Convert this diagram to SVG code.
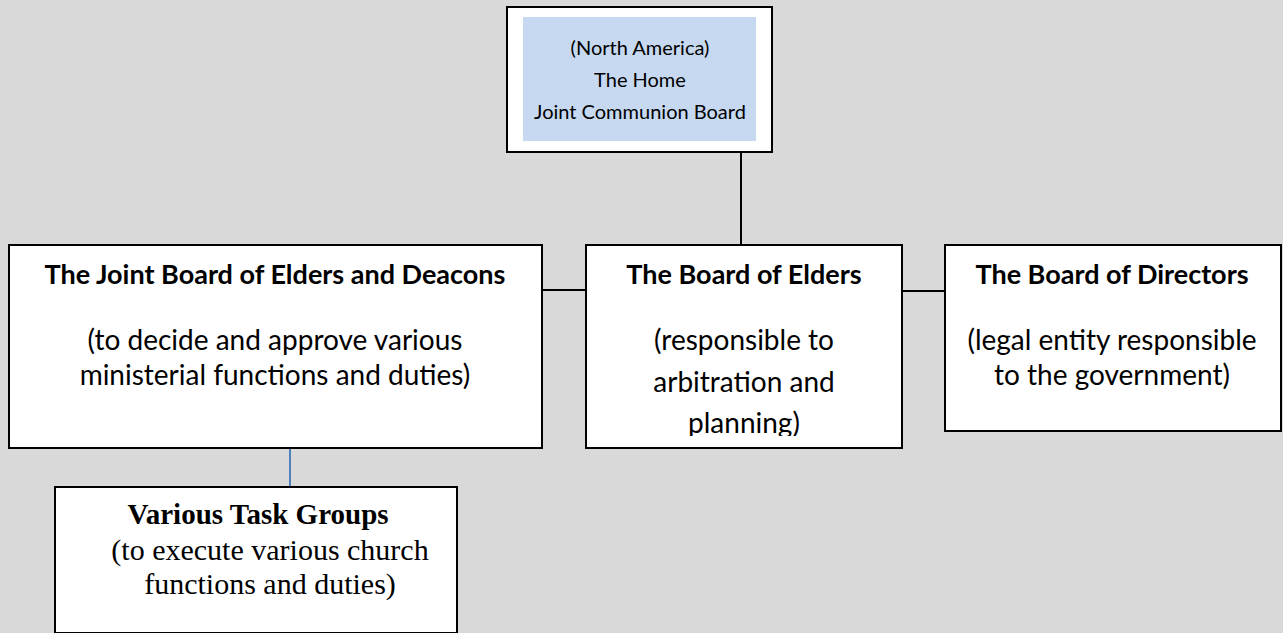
<svg xmlns="http://www.w3.org/2000/svg" width="1283" height="633" viewBox="0 0 1283 633">
  <style>
    .box { fill: #ffffff; stroke: #000000; stroke-width: 2; }
    .link { stroke: #000000; stroke-width: 2; fill: none; }
    .link-blue { stroke: #4f81bd; stroke-width: 2; fill: none; }
    .sans { font-family: Lato, "Open Sans", "Liberation Sans", sans-serif; fill: #000000; text-anchor: middle; }
    .serif { font-family: "Liberation Serif", "Times New Roman", serif; fill: #000000; text-anchor: middle; }
    .title { font-weight: bold; font-size: 27px; }
    .body { font-size: 28px; }
    .top { font-size: 20px; }
    .s-title { font-weight: bold; font-size: 29px; }
    .s-body { font-size: 30px; }
  </style>
  <defs>
    <!-- the elders box text area ends above the border, cutting the last line -->
    <clipPath id="elders-clip">
      <rect x="586" y="245" width="316" height="191"/>
    </clipPath>
  </defs>
  <rect x="0" y="0" width="1283" height="633" fill="#d9d9d9"/>

  <g id="connectors">
    <line class="link" x1="741" y1="152" x2="741" y2="245"/>
    <line class="link" x1="542" y1="290" x2="586" y2="290"/>
    <line class="link" x1="902" y1="291" x2="945" y2="291"/>
    <line class="link-blue" x1="290" y1="448" x2="290" y2="487"/>
  </g>

  <g id="home-board">
    <rect class="box" x="507" y="7" width="265" height="145"/>
    <rect x="523" y="17" width="233" height="124" fill="#c6d9f0"/>
    <text class="sans top" x="640" y="55">(North America)</text>
    <text class="sans top" x="640" y="87">The Home</text>
    <text class="sans top" x="640" y="119">Joint Communion Board</text>
  </g>

  <g id="joint-board">
    <rect class="box" x="9" y="245" width="533" height="203"/>
    <text class="sans title" x="275" y="284">The Joint Board of Elders and Deacons</text>
    <text class="sans body" x="275" y="350">(to decide and approve various</text>
    <text class="sans body" x="275" y="385">ministerial functions and duties)</text>
  </g>

  <g id="board-of-elders">
    <rect class="box" x="586" y="245" width="316" height="203"/>
    <text class="sans title" x="744" y="284">The Board of Elders</text>
    <g clip-path="url(#elders-clip)">
      <text class="sans body" x="744" y="350">(responsible to</text>
      <text class="sans body" x="744" y="392">arbitration and</text>
      <text class="sans body" x="744" y="433">planning)</text>
    </g>
  </g>

  <g id="board-of-directors">
    <rect class="box" x="945" y="245" width="336" height="186"/>
    <text class="sans title" x="1112" y="284">The Board of Directors</text>
    <text class="sans body" x="1112" y="350">(legal entity responsible</text>
    <text class="sans body" x="1112" y="385">to the government)</text>
  </g>

  <g id="task-groups">
    <rect class="box" x="55" y="487" width="402" height="146"/>
    <text class="serif s-title" x="258" y="524">Various Task Groups</text>
    <text class="serif s-body" x="270" y="560">(to execute various church</text>
    <text class="serif s-body" x="270" y="594">functions and duties)</text>
  </g>
</svg>
